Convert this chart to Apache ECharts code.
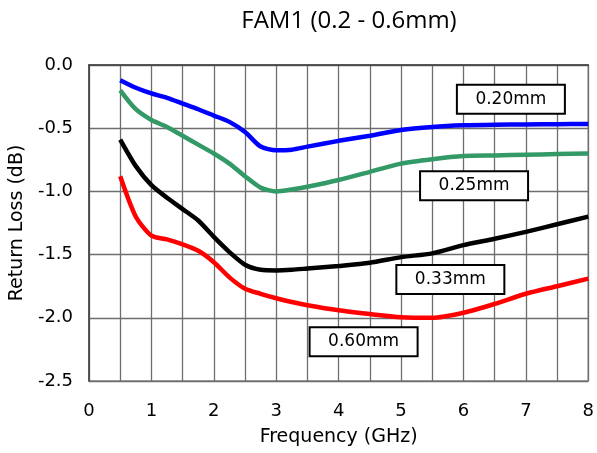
<!DOCTYPE html>
<html>
<head>
<meta charset="utf-8">
<script src="https://cdn.jsdelivr.net/npm/echarts@6/dist/echarts.min.js"></script>
<style>html,body{margin:0;padding:0;background:#fff;}#c{width:597px;height:453px;}</style>
</head>
<body>
<div id="c"></div>
<script>
// Frequency points (GHz)
var freq = [0.5, 0.75, 1.0, 1.25, 1.5, 1.75, 2.0, 2.25, 2.5, 2.75, 3.0, 3.25, 3.5, 4.0, 4.5, 5.0, 5.5, 6.0, 6.5, 7.0, 7.5, 8.0];
// Return loss (dB) per thickness
var rl020 = [-0.12, -0.18, -0.225, -0.26, -0.305, -0.35, -0.40, -0.45, -0.53, -0.645, -0.675, -0.67, -0.646, -0.60, -0.56, -0.514, -0.49, -0.477, -0.472, -0.47, -0.468, -0.467];
var rl025 = [-0.20, -0.35, -0.435, -0.49, -0.56, -0.63, -0.70, -0.78, -0.88, -0.97, -1.00, -0.985, -0.963, -0.91, -0.845, -0.78, -0.745, -0.72, -0.715, -0.71, -0.705, -0.70];
var rl033 = [-0.59, -0.80, -0.95, -1.05, -1.14, -1.23, -1.36, -1.48, -1.58, -1.62, -1.625, -1.62, -1.61, -1.59, -1.565, -1.52, -1.49, -1.425, -1.375, -1.32, -1.26, -1.20];
var rl060 = [-0.88, -1.20, -1.35, -1.38, -1.42, -1.47, -1.56, -1.68, -1.77, -1.81, -1.845, -1.875, -1.90, -1.94, -1.97, -1.995, -2.00, -1.96, -1.89, -1.81, -1.75, -1.69];
var seriesNames = ['0.20mm', '0.25mm', '0.33mm', '0.60mm'];
// Annotation boxes (text, frequency, dB)
var boxText = ['0.20mm', '0.25mm', '0.33mm', '0.60mm'];
var boxX = [6.76, 6.17, 5.79, 4.40];
var boxY = [-0.27, -0.956, -1.697, -2.19];

var colors = ['#0000ff', '#339966', '#000000', '#ff0000'];
var allData = [rl020, rl025, rl033, rl060];

function pairs(ys) { return freq.map(function (f, i) { return [f, ys[i]]; }); }

var series = allData.map(function (ys, k) {
  return {
    name: seriesNames[k], type: 'line', data: pairs(ys), smooth: 0.25,
    showSymbol: false, symbol: 'none',
    lineStyle: { color: colors[k], width: 4.5 }, z: 3
  };
});

var chart = echarts.init(document.getElementById('c'), null, { renderer: 'canvas' });
chart.setOption({
  animation: false,
  backgroundColor: '#ffffff',
  title: {
    text: 'FAM1 (0.2 - 0.6mm)', left: 344, top: 4, textAlign: 'center',
    textStyle: { fontFamily: 'Open Sans', fontSize: 24, fontWeight: 'normal', color: '#000' }
  },
  grid: { left: 89, right: 7, top: 65, bottom: 72, show: true, borderColor: '#888', borderWidth: 1.5 },
  xAxis: {
    type: 'value', min: 0, max: 8, interval: 0.5,
    name: 'Frequency (GHz)', nameLocation: 'middle', nameGap: 47,
    nameTextStyle: { fontFamily: 'DejaVu Sans', fontSize: 19, color: '#000' },
    axisLine: { show: true, lineStyle: { color: '#404040', width: 1.5 } },
    axisTick: { show: false },
    axisLabel: {
      margin: 21, fontFamily: 'DejaVu Sans', fontSize: 18, color: '#000',
      formatter: function (v) { return Math.abs(v - Math.round(v)) < 1e-9 ? String(Math.round(v)) : ''; }
    },
    splitLine: { show: true, lineStyle: { color: '#6e6e6e', width: 1.3 } }
  },
  yAxis: {
    type: 'value', min: -2.5, max: 0, interval: 0.5,
    name: 'Return Loss (dB)', nameLocation: 'middle', nameGap: 60, nameRotate: 90,
    nameTextStyle: { fontFamily: 'DejaVu Sans', fontSize: 19, color: '#000' },
    axisLine: { show: true, lineStyle: { color: '#404040', width: 1.5 } },
    axisTick: { show: false },
    axisLabel: {
      margin: 16, fontFamily: 'DejaVu Sans', fontSize: 18, color: '#000',
      formatter: function (v) { return v.toFixed(1); }
    },
    splitLine: { show: true, lineStyle: { color: '#6e6e6e', width: 1.3 } }
  },
  series: series
});

// Annotation boxes placed through the chart's own coordinate conversion
var boxW = 108, boxH = 29;
var elements = boxText.map(function (t, i) {
  var p = chart.convertToPixel({ gridIndex: 0 }, [boxX[i], boxY[i]]);
  return {
    type: 'group', x: p[0], y: p[1], z: 100,
    children: [
      { type: 'rect', shape: { x: -boxW / 2, y: -boxH / 2, width: boxW, height: boxH },
        style: { fill: '#ffffff', stroke: '#000000', lineWidth: 2 }, z: 100 },
      { type: 'text', x: 0, y: 0, z: 101,
        style: { text: t, fill: '#000', font: '17px "DejaVu Sans"', align: 'center', verticalAlign: 'middle' } }
    ]
  };
});
chart.setOption({ graphic: elements });
</script>
</body>
</html>
